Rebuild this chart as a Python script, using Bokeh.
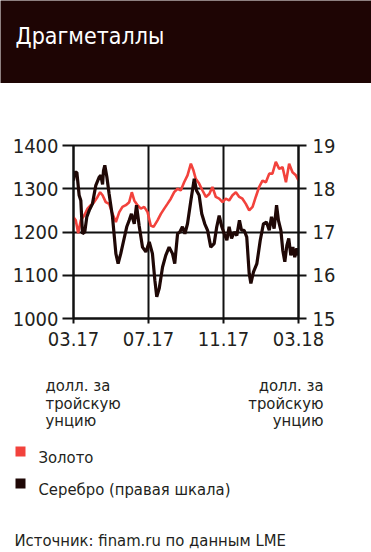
from bokeh.plotting import figure
from bokeh.layouts import column
from bokeh.models import Range1d, LinearAxis, FixedTicker, Label
from bokeh.embed import file_html
from bokeh.resources import INLINE

# ---- data ----
title = "Драгметаллы"
x_tick_months = [0, 4, 8, 12]
x_tick_labels = ["03.17", "07.17", "11.17", "03.18"]
gold_ticks = [1000, 1100, 1200, 1300, 1400]
silver_ticks = [15, 16, 17, 18, 19]
unit_lines = ["долл. за", "тройскую", "унцию"]
legend_names = ["Золото", "Серебро (правая шкала)"]
source_text = "Источник: finam.ru по данным LME"

# months since March 2017
gold_t = [0.00, 0.12, 0.25, 0.39, 0.57, 0.75, 0.92, 1.10, 1.28, 1.42,
          1.55, 1.72, 1.90, 2.08, 2.26, 2.44, 2.61, 2.79, 2.97, 3.11,
          3.24, 3.41, 3.59, 3.77, 3.95, 4.12, 4.27, 4.48, 4.66, 4.84,
          5.01, 5.19, 5.37, 5.55, 5.72, 5.90, 6.08, 6.26, 6.40, 6.52,
          6.70, 6.88, 7.06, 7.24, 7.41, 7.59, 7.77, 7.95, 8.12, 8.30,
          8.48, 8.66, 8.84, 9.01, 9.19, 9.37, 9.55, 9.72, 9.90, 10.08,
          10.26, 10.44, 10.61, 10.79, 10.97, 11.15, 11.33, 11.50, 11.68, 11.86,
          12.00]
gold = [1234, 1227, 1197, 1227, 1238, 1254, 1262, 1269, 1281, 1292,
        1285, 1269, 1265, 1242, 1223, 1246, 1258, 1262, 1269, 1292,
        1273, 1262, 1254, 1258, 1246, 1215, 1212, 1227, 1242, 1254,
        1265, 1277, 1292, 1300, 1296, 1315, 1331, 1358, 1342, 1323,
        1312, 1296, 1281, 1288, 1304, 1281, 1277, 1269, 1277, 1273,
        1285, 1292, 1281, 1277, 1265, 1250, 1258, 1281, 1304, 1319,
        1315, 1335, 1335, 1362, 1346, 1350, 1315, 1358, 1338, 1331,
        1319]

silver_t = [0.00, 0.07, 0.18, 0.30, 0.39, 0.48, 0.60, 0.71, 0.84, 1.01,
            1.19, 1.37, 1.46, 1.55, 1.60, 1.67, 1.78, 1.90, 2.08, 2.26,
            2.38, 2.52, 2.70, 2.84, 2.97, 3.09, 3.24, 3.36, 3.50, 3.68,
            3.86, 4.04, 4.21, 4.34, 4.44, 4.57, 4.75, 4.92, 5.10, 5.28,
            5.40, 5.55, 5.67, 5.81, 5.94, 6.08, 6.26, 6.44, 6.56, 6.70,
            6.84, 7.00, 7.15, 7.32, 7.50, 7.64, 7.77, 7.91, 8.04, 8.18,
            8.30, 8.43, 8.57, 8.71, 8.85, 8.96, 9.10, 9.24, 9.37, 9.46,
            9.60, 9.78, 9.96, 10.13, 10.29, 10.44, 10.56, 10.70, 10.83, 10.93,
            11.06, 11.16, 11.27, 11.38, 11.48, 11.59, 11.70, 11.80, 11.91, 12.00]
silver = [18.19, 18.38, 18.38, 17.85, 17.73, 16.96, 17.00, 17.35, 17.50, 17.65,
          18.08, 18.27, 18.31, 18.10, 18.42, 18.54, 18.27, 17.88, 17.35, 16.50,
          16.27, 16.50, 16.85, 17.12, 17.27, 17.42, 17.19, 17.62, 17.15, 16.65,
          16.54, 16.77, 16.50, 15.88, 15.50, 15.69, 16.19, 16.46, 16.65, 16.50,
          16.27, 16.96, 17.00, 17.12, 16.96, 17.19, 17.73, 18.23, 17.96, 17.85,
          17.42, 17.19, 17.04, 16.65, 16.73, 17.12, 17.38, 17.12, 16.96, 16.81,
          17.12, 16.85, 17.00, 16.92, 17.27, 17.04, 17.04, 16.88, 16.04, 15.81,
          16.08, 16.27, 16.81, 17.19, 17.23, 17.04, 17.35, 17.08, 17.62, 17.27,
          17.04, 16.58, 16.31, 16.69, 16.85, 16.46, 16.65, 16.42, 16.62, 16.46]

GOLD_C = "#f2423c"
SILVER_C = "#1f0806"
HEAD_C = "#1e0504"
TEXT_C = "#231f20"
FONT = "'DejaVu Sans Condensed', Roboto"
W = 371
HEAD_H, MAIN_H, FOOT_H = 83, 277, 192


def blank(h, bg):
    f = figure(width=W, height=h, output_backend="svg", toolbar_location=None,
               x_range=Range1d(0, W), y_range=Range1d(h, 0),
               x_axis_type=None, y_axis_type=None, frame_align=False,
               min_border=0, min_border_left=0, min_border_right=0,
               min_border_top=0, min_border_bottom=0,
               background_fill_color=bg, border_fill_color=bg)
    f.grid.visible = False
    f.outline_line_color = None
    return f


def lab(f, x, y, t, size, color=TEXT_C, align="left"):
    f.add_layout(Label(x=x, y=y, text=t, text_font=FONT, text_font_size=size,
                       text_color=color, text_align=align,
                       text_baseline="alphabetic"))


# ---- header ----
head = blank(HEAD_H, HEAD_C)
lab(head, 15, 35, title, "23px", color="white")

# ---- main chart ----
p = figure(width=W, height=MAIN_H, output_backend="svg", toolbar_location=None,
           x_range=Range1d(0, 12), y_range=Range1d(1000, 1400),
           min_border_left=73, min_border_right=73,
           min_border_top=62, min_border_bottom=42, frame_align=False,
           background_fill_color="white", border_fill_color="white")
p.extra_y_ranges = {"silver": Range1d(15, 19)}

p.line(gold_t, gold, line_color=GOLD_C, line_width=2.6)
p.line(silver_t, silver, line_color=SILVER_C, line_width=3.2, y_range_name="silver")

p.outline_line_color = "#111111"
p.outline_line_width = 2
for g in (p.xgrid, p.ygrid):
    g.grid_line_color = "#111111"
    g.grid_line_width = 2
p.xgrid.ticker = FixedTicker(ticks=x_tick_months)
p.ygrid.ticker = FixedTicker(ticks=gold_ticks)

xa = p.xaxis[0]
xa.ticker = FixedTicker(ticks=x_tick_months)
xa.major_label_overrides = {t: l for t, l in zip(x_tick_months, x_tick_labels)}
ya = p.yaxis[0]
ya.ticker = FixedTicker(ticks=gold_ticks)
ra = LinearAxis(y_range_name="silver", ticker=FixedTicker(ticks=silver_ticks))
p.add_layout(ra, "right")

for ax, tout, stand, fs in ((xa, 5, 8, "20px"), (ya, 11, 4, "20px"), (ra, 8, 6, "20px")):
    ax.axis_line_color = "#111111"
    ax.axis_line_width = 2
    ax.major_tick_line_color = "#111111"
    ax.major_tick_line_width = 2
    ax.major_tick_out = tout
    ax.major_tick_in = 0
    ax.minor_tick_line_color = None
    ax.major_label_standoff = stand
    ax.major_label_text_font = FONT
    ax.major_label_text_font_size = fs
    ax.major_label_text_color = TEXT_C

# ---- footer ----
foot = blank(FOOT_H, "white")
for i, t in enumerate(unit_lines):
    lab(foot, 45, 25 + i * 17.5, t, "16.5px")
    lab(foot, 323, 25 + i * 17.5, t, "16.5px", align="right")

foot.quad(left=[15, 15], right=[25, 25], top=[86, 118], bottom=[96, 128],
          fill_color=[GOLD_C, SILVER_C], line_color=None)
lab(foot, 38, 97, legend_names[0], "16.5px")
lab(foot, 38, 129, legend_names[1], "16.5px")
lab(foot, 14, 180, source_text, "16.5px")

layout = column(head, p, foot, spacing=0)
open("out.html", "w").write(file_html(layout, INLINE))
